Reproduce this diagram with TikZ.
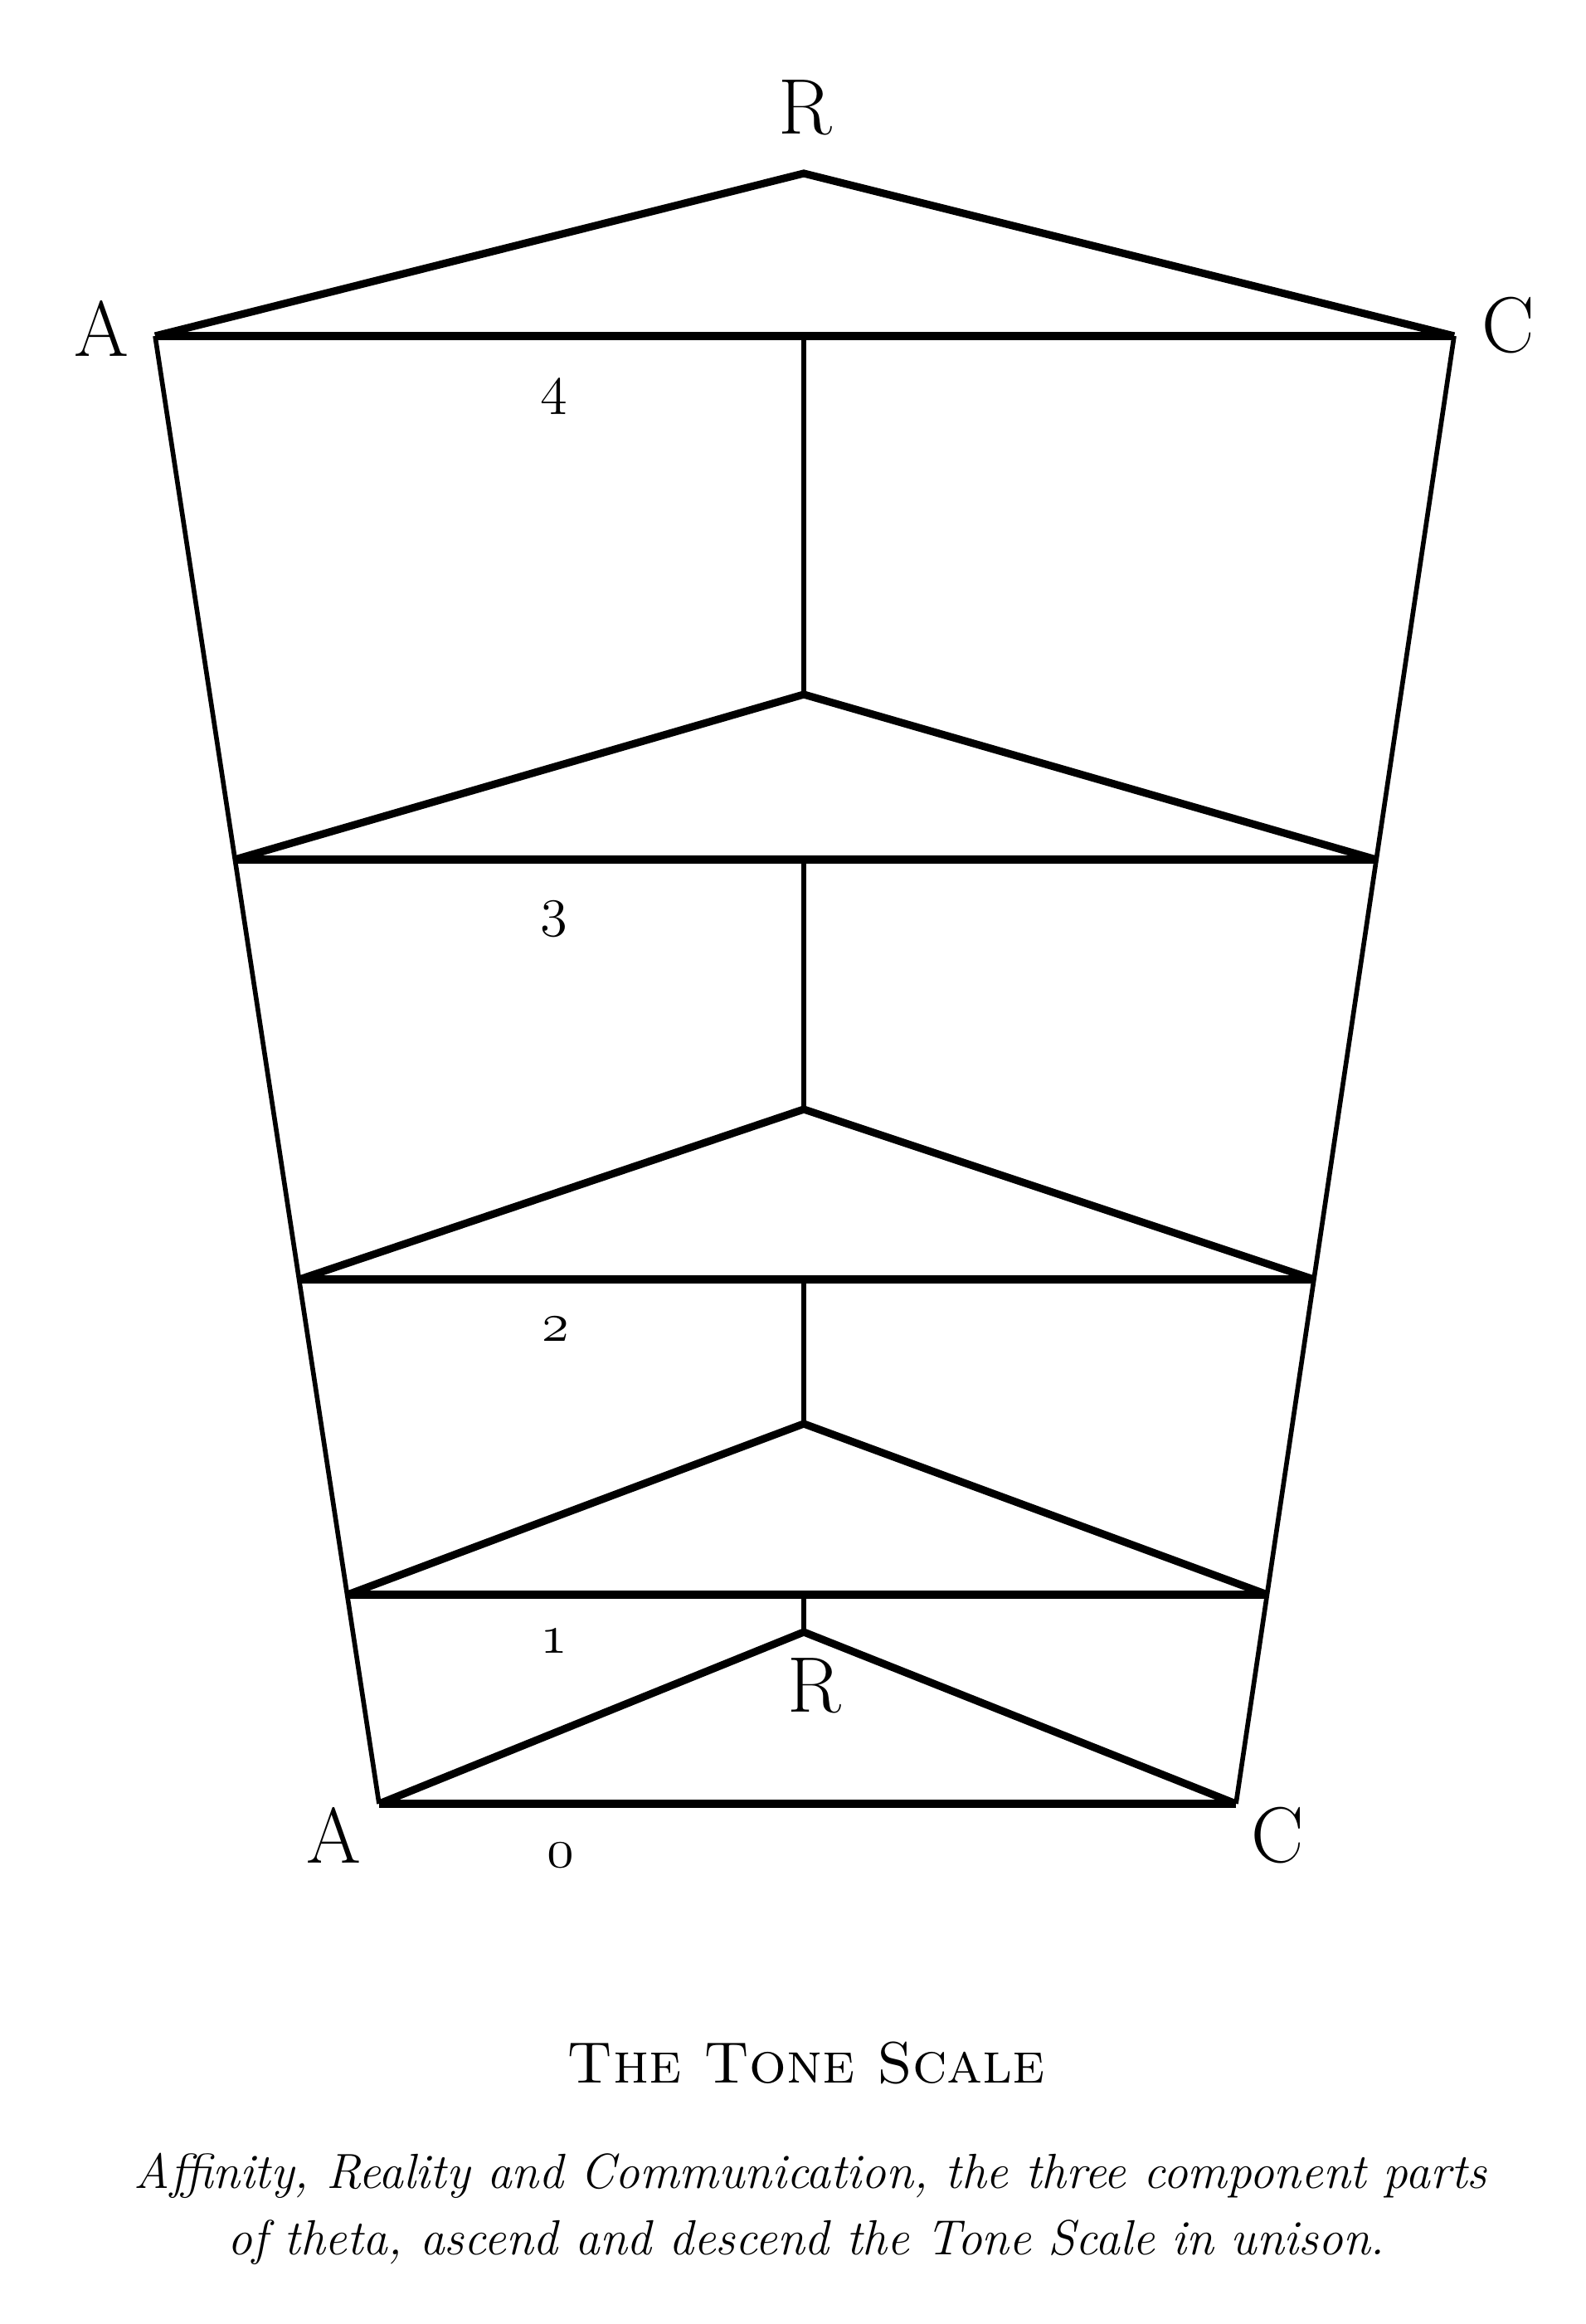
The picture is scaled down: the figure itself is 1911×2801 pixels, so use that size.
\RequirePackage{fix-cm}
\documentclass[tikz,border=0pt]{standalone}
\usepackage{fontspec}
\usepackage{tikz}
\usetikzlibrary{positioning}

\tikzset{
  barra/.style={line width=2.6pt},
  lato/.style={line width=1.6pt},
  lettera/.style={inner sep=0pt, font=\fontsize{27}{30}\selectfont},
  livello/.style={inner sep=0pt, font=\fontsize{19}{22}\usefont{OML}{cmm}{m}{it}},
}

\begin{document}
\begin{tikzpicture}[x=0.01cm, y=-0.01cm]
        \useasboundingbox (0,0) rectangle (1911,2801);

        % Definisci i punti
        \coordinate (r5) at (969,209);
        \coordinate (a4) at (187,405);  \coordinate (c4) at (1753,405);
        \coordinate (r4) at (969,837);
        \coordinate (a3) at (283,1036); \coordinate (c3) at (1659,1036);
        \coordinate (r3) at (969,1337);
        \coordinate (a2) at (361,1542); \coordinate (c2) at (1584,1542);
        \coordinate (r2) at (969,1716);
        \coordinate (a1) at (419,1922); \coordinate (c1) at (1528,1922);
        \coordinate (r1) at (969,1967);
        \coordinate (a0) at (457,2174); \coordinate (c0) at (1490,2174);

        % Definisci i nodi
        \node[lettera] (Rsu) at (971,130) {R};
        \node[lettera] (Asu) at (122,396) {A};
        \node[lettera] (Csu) at (1818,392) {C};
        \node[lettera] (Rgiu) at (982,2032) {R};
        \node[lettera] (Agiu) at (402,2212) {A};
        \node[lettera] (Cgiu) at (1540,2212) {C};

        \node[livello] (l4) at (668,479) {4};
        \node[livello] (l3) at (668,1108) {3};
        \node[livello] (l2) at (670,1602) {2};
        \node[livello] (l1) at (668,1978) {1};
        \node[livello] (l0) at (676,2236) {0};

        \node[anchor=base, inner sep=0pt, font=\fontsize{20}{26}\selectfont] (titolo) at (972,2510) {\textsc{The Tone Scale}};
        \node[anchor=base, inner sep=0pt, font=\fontsize{16.9}{22}\selectfont\itshape] (riga1) at (977,2637) {Affinity, Reality and Communication, the three component parts};
        \node[anchor=base, inner sep=0pt, font=\fontsize{16.9}{22}\selectfont\itshape] (riga2) at (972,2717) {of theta, ascend and descend the Tone Scale in unison.};

        % Disegna le linee
        \draw[barra] (a4) -- (r5) -- (c4);
        \draw[barra] (a4) -- (c4);
        \draw[lato] (a4) -- (a0);
        \draw[lato] (c4) -- (c0);

        \foreach \i/\j in {4/3, 3/2, 2/1, 1/0} {
          \draw[lato] (r\i |- a\i) -- (r\i);
          \draw[barra] (a\j) -- (r\i) -- (c\j);
          \draw[barra] (a\j) -- (c\j);
        }

    \end{tikzpicture}
\end{document}
